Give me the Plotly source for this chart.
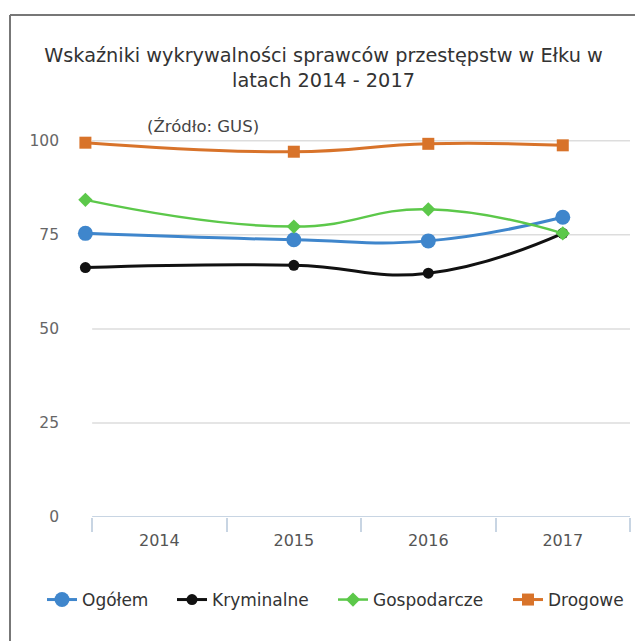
import plotly.graph_objects as go

# Detection rates (%) of crime perpetrators in Ełk, 2014-2017 (source: GUS)
years = ["2014", "2015", "2016", "2017"]
ogolem = [75.4, 73.7, 73.4, 79.7]
kryminalne = [66.3, 66.9, 64.8, 75.4]
gospodarcze = [84.3, 77.2, 81.8, 75.4]
drogowe = [99.5, 97.1, 99.2, 98.8]
y_ticks = [0, 25, 50, 75, 100]

W, H = 635, 641
ML, MR, MT, MB = 76, 5, 122, 124
FONT = "DejaVu Sans"
AXIS_COLOR = "#c8d5e3"

# category centres on a numeric axis; the first point sits at the axis start
xpos = [i for i in range(len(years))]
xpos[0] = -0.55
x_lo, x_hi = -0.5, len(years) - 0.5

# name, values, colour, marker symbol, marker size, line width, legend text x (px)
series = [
    ("Ogółem", ogolem, "#3f86cc", "circle", 15, 3, 82),
    ("Kryminalne", kryminalne, "#111111", "circle", 11, 3, 212),
    ("Gospodarcze", gospodarcze, "#5cc84a", "diamond", 11, 2.5, 373),
    ("Drogowe", drogowe, "#d8732a", "square", 12, 3, 548),
]

fig = go.Figure()
legend_layout = {}
for i, (name, vals, color, symbol, size, width, lx) in enumerate(series):
    key = "legend" if i == 0 else f"legend{i + 1}"
    fig.add_trace(go.Scatter(
        x=xpos, y=vals, name=name, mode="lines+markers",
        line=dict(color=color, width=width, shape="spline", smoothing=1.3),
        marker=dict(color=color, symbol=symbol, size=size,
                    line=dict(color=color, width=0)),
        cliponaxis=False, legend=key,
    ))
    legend_layout[key] = dict(
        orientation="h", x=(lx - 40) / W, xanchor="left", xref="container",
        y=41 / H, yanchor="middle", yref="container",
        font=dict(family=FONT, size=17, color="#333333"),
        bgcolor="rgba(0,0,0,0)",
    )

# horizontal grid and the category axis line, spanning the category band only
for t in y_ticks:
    fig.add_shape(type="line", xref="x", yref="y", layer="below",
                  x0=x_lo, x1=x_hi + 0.02, y0=t, y1=t,
                  line=dict(color=AXIS_COLOR if t == 0 else "#dddddd",
                            width=2 if t == 0 else 1.5))

fig.update_layout(
    width=W, height=H,
    margin=dict(l=ML, r=MR, t=MT, b=MB),
    paper_bgcolor="white", plot_bgcolor="white",
    font=dict(family=FONT, color="#333333"),
    title=dict(
        text="Wskaźniki wykrywalności sprawców przestępstw w Ełku w<br>latach 2014 - 2017",
        x=(W / 2 + 6) / W, xref="container", xanchor="center",
        y=1 - 62 / H, yanchor="top", yref="container",
        font=dict(family=FONT, size=19.3, color="#333333"),
    ),
    xaxis=dict(
        range=[-0.62, x_hi],
        tickmode="array", tickvals=list(range(len(years))), ticktext=years,
        ticks="", showgrid=False, zeroline=False, showline=False,
        tickfont=dict(size=16, color="#555555"),
        ticklabelstandoff=12,
        minor=dict(tick0=0.5, dtick=1, ticks="outside", ticklen=14,
                   tickwidth=2, tickcolor=AXIS_COLOR, showgrid=False),
    ),
    yaxis=dict(
        range=[0, 105],
        tickmode="array", tickvals=y_ticks,
        showgrid=False, zeroline=False, showline=False,
        tickfont=dict(size=15.5, color="#666666"),
        ticklabelstandoff=16,
    ),
    showlegend=True,
    **legend_layout,
)

PW, PH = W - ML - MR, H - MT - MB

# source note under the title
fig.add_annotation(
    text="(Źródło: GUS)", xref="paper", yref="paper",
    x=(145 - ML) / PW, y=(H - MB - 126) / PH,
    xanchor="left", yanchor="middle", showarrow=False,
    font=dict(size=16.5, color="#444444"),
)

# outer frame line along the top and left edges
fx0 = (10 - ML) / PW
fy_top = (H - MB - 15) / PH
fy_bot = (H - MB - H - 5) / PH
fx1 = (W + 5 - ML) / PW
fig.add_shape(type="line", xref="paper", yref="paper",
              x0=fx0, x1=fx1, y0=fy_top, y1=fy_top,
              line=dict(color="#777777", width=2))
fig.add_shape(type="line", xref="paper", yref="paper",
              x0=fx0, x1=fx0, y0=fy_top, y1=fy_bot,
              line=dict(color="#777777", width=2))

fig.write_html("out.html")
